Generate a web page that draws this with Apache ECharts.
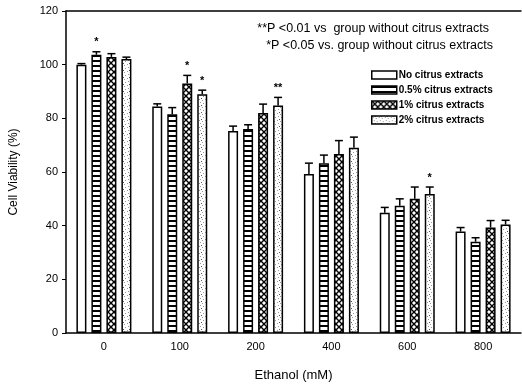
<!DOCTYPE html>
<html>
<head>
<meta charset="utf-8">
<script src="https://cdn.jsdelivr.net/npm/echarts@6/dist/echarts.min.js"></script>
<style>
  html, body { margin: 0; padding: 0; background: #fff; }
  #chart { width: 522px; height: 387px; }
</style>
</head>
<body>
<div id="chart"></div>
<script>
var ethanol = ['0', '100', '200', '400', '600', '800'];
var seriesNames = ['No citrus extracts', '0.5% citrus extracts', '1% citrus extracts', '2% citrus extracts'];

var noCitrus = [100, 84.4, 75.3, 59.3, 44.8, 37.8];
var noCitrusErr = [0.4, 1.0, 1.8, 4.0, 2.0, 1.5];
var citrus05 = [103.7, 81.5, 76.0, 63.3, 47.4, 34.0];
var citrus05Err = [1.1, 2.5, 1.6, 3.0, 2.6, 1.5];
var citrus1 = [102.9, 93.0, 82.0, 66.7, 50.0, 39.3];
var citrus1Err = [1.2, 3.0, 3.3, 5.0, 4.4, 2.6];
var citrus2 = [102.1, 89.0, 84.8, 69.0, 51.8, 40.4];
var citrus2Err = [0.7, 1.5, 3.0, 4.0, 2.6, 1.6];

var sigNo = ['', '', '', '', '', ''];
var sig05 = ['*', '', '', '', '', ''];
var sig1 = ['', '*', '', '', '', ''];
var sig2 = ['', '*', '**', '', '*', ''];

var noteLines = ['**P <0.01 vs  group without citrus extracts', '*P <0.05 vs. group without citrus extracts'];

// ---------- fill patterns ----------
function makeCanvas(w, h, draw) {
  var c = document.createElement('canvas');
  c.width = w; c.height = h;
  var ctx = c.getContext('2d');
  ctx.fillStyle = '#fff';
  ctx.fillRect(0, 0, w, h);
  draw(ctx);
  return c;
}
var stripes = makeCanvas(4, 5, function (ctx) {
  ctx.fillStyle = '#000';
  ctx.fillRect(0, 0, 4, 2);
});
var hatch = makeCanvas(6, 6, function (ctx) {
  ctx.strokeStyle = '#000';
  ctx.lineWidth = 1.4;
  ctx.beginPath();
  ctx.moveTo(0, 0); ctx.lineTo(6, 6);
  ctx.moveTo(6, 0); ctx.lineTo(0, 6);
  ctx.stroke();
});
var speckle = makeCanvas(6, 7, function (ctx) {
  ctx.fillStyle = '#999';
  ctx.fillRect(1, 1, 1, 1);
  ctx.fillRect(4, 2, 1, 1);
  ctx.fillRect(2, 4, 1, 1);
  ctx.fillRect(5, 5, 1, 1);
  ctx.fillStyle = '#555';
  ctx.fillRect(3, 0, 1, 1);
});

var fills = [
  '#fff',
  { image: stripes, repeat: 'repeat' },
  { image: hatch, repeat: 'repeat' },
  { image: speckle, repeat: 'repeat' }
];
var values = [noCitrus, citrus05, citrus1, citrus2];
var errors = [noCitrusErr, citrus05Err, citrus1Err, citrus2Err];
var sigs = [sigNo, sig05, sig1, sig2];

var barW = 10, gapW = 5;
var offsets = [-1.5, -0.5, 0.5, 1.5].map(function (k) { return k * (barW + gapW); });

var series = [];
values.forEach(function (vals, s) {
  series.push({
    name: seriesNames[s],
    type: 'bar',
    data: vals,
    barWidth: barW,
    barGap: (gapW / barW * 100) + '%',
    barCategoryGap: '26%',
    itemStyle: { color: fills[s], borderColor: '#000', borderWidth: 1.5 },
    emphasis: { disabled: true },
    z: 2
  });
});
values.forEach(function (vals, s) {
  series.push({
    type: 'custom',
    silent: true,
    z: 3,
    data: vals.map(function (v, i) { return [i, v, errors[s][i]]; }),
    encode: { x: 0, y: 1 },
    renderItem: function (params, api) {
      var i = api.value(0), v = api.value(1), e = api.value(2);
      var base = api.coord([i, v]);
      var top = api.coord([i, v + e]);
      var x = base[0] + offsets[s];
      var children = [
        { type: 'line', shape: { x1: x, y1: base[1], x2: x, y2: top[1] }, style: { stroke: '#000', lineWidth: 1.5 } },
        { type: 'line', shape: { x1: x - 4, y1: top[1], x2: x + 4, y2: top[1] }, style: { stroke: '#000', lineWidth: 1.5 } }
      ];
      var mark = sigs[s][i];
      if (mark) {
        children.push({ type: 'text', x: x, y: top[1] - 4, style: { text: mark, align: 'center', verticalAlign: 'bottom', fill: '#000', font: 'bold 11px "Liberation Sans", Arial' } });
      }
      return { type: 'group', children: children };
    }
  });
});

var chart = echarts.init(document.getElementById('chart'));
chart.setOption({
  animation: false,
  textStyle: { fontFamily: '"Liberation Sans", Arial, sans-serif' },
  grid: { left: 66, right: 1, top: 11, bottom: 52 },
  legend: {
    data: seriesNames,
    orient: 'vertical',
    left: 371,
    top: 70,
    padding: 0,
    icon: 'rect',
    itemWidth: 25,
    itemHeight: 8,
    itemGap: 5,
    selectedMode: false,
    textStyle: { color: '#000', fontSize: 10, fontWeight: 'bold', padding: [0, 0, 0, -3] },
    itemStyle: { borderColor: '#000', borderWidth: 1.5 }
  },
  xAxis: [{
    type: 'category',
    data: ethanol,
    name: 'Ethanol (mM)',
    nameLocation: 'middle',
    nameGap: 36,
    nameTextStyle: { color: '#000', fontSize: 13 },
    axisLine: { lineStyle: { color: '#000', width: 1.5 } },
    axisTick: { alignWithLabel: true, length: 4, lineStyle: { color: '#000' } },
    axisLabel: { color: '#000', fontSize: 11, margin: 8 }
  }, {
    type: 'category',
    position: 'top',
    data: ethanol,
    axisLine: { show: true, lineStyle: { color: '#000', width: 1.5 } },
    axisTick: { show: false },
    axisLabel: { show: false }
  }],
  yAxis: {
    type: 'value',
    min: 0,
    max: 120,
    interval: 20,
    name: 'Cell Viability (%)',
    nameLocation: 'middle',
    nameGap: 46,
    nameTextStyle: { color: '#000', fontSize: 12 },
    axisLine: { show: true, lineStyle: { color: '#000', width: 1.5 } },
    axisTick: { show: true, length: 4, lineStyle: { color: '#000' } },
    axisLabel: { color: '#000', fontSize: 11, margin: 8 },
    splitLine: { show: false }
  },
  graphic: [
    { type: 'text', right: 33, top: 22, style: { text: noteLines[0], fill: '#000', font: '12.5px "Liberation Sans", Arial', textAlign: 'right' } },
    { type: 'text', right: 29, top: 39, style: { text: noteLines[1], fill: '#000', font: '12.5px "Liberation Sans", Arial', textAlign: 'right' } }
  ],
  series: series
});
</script>
</body>
</html>
